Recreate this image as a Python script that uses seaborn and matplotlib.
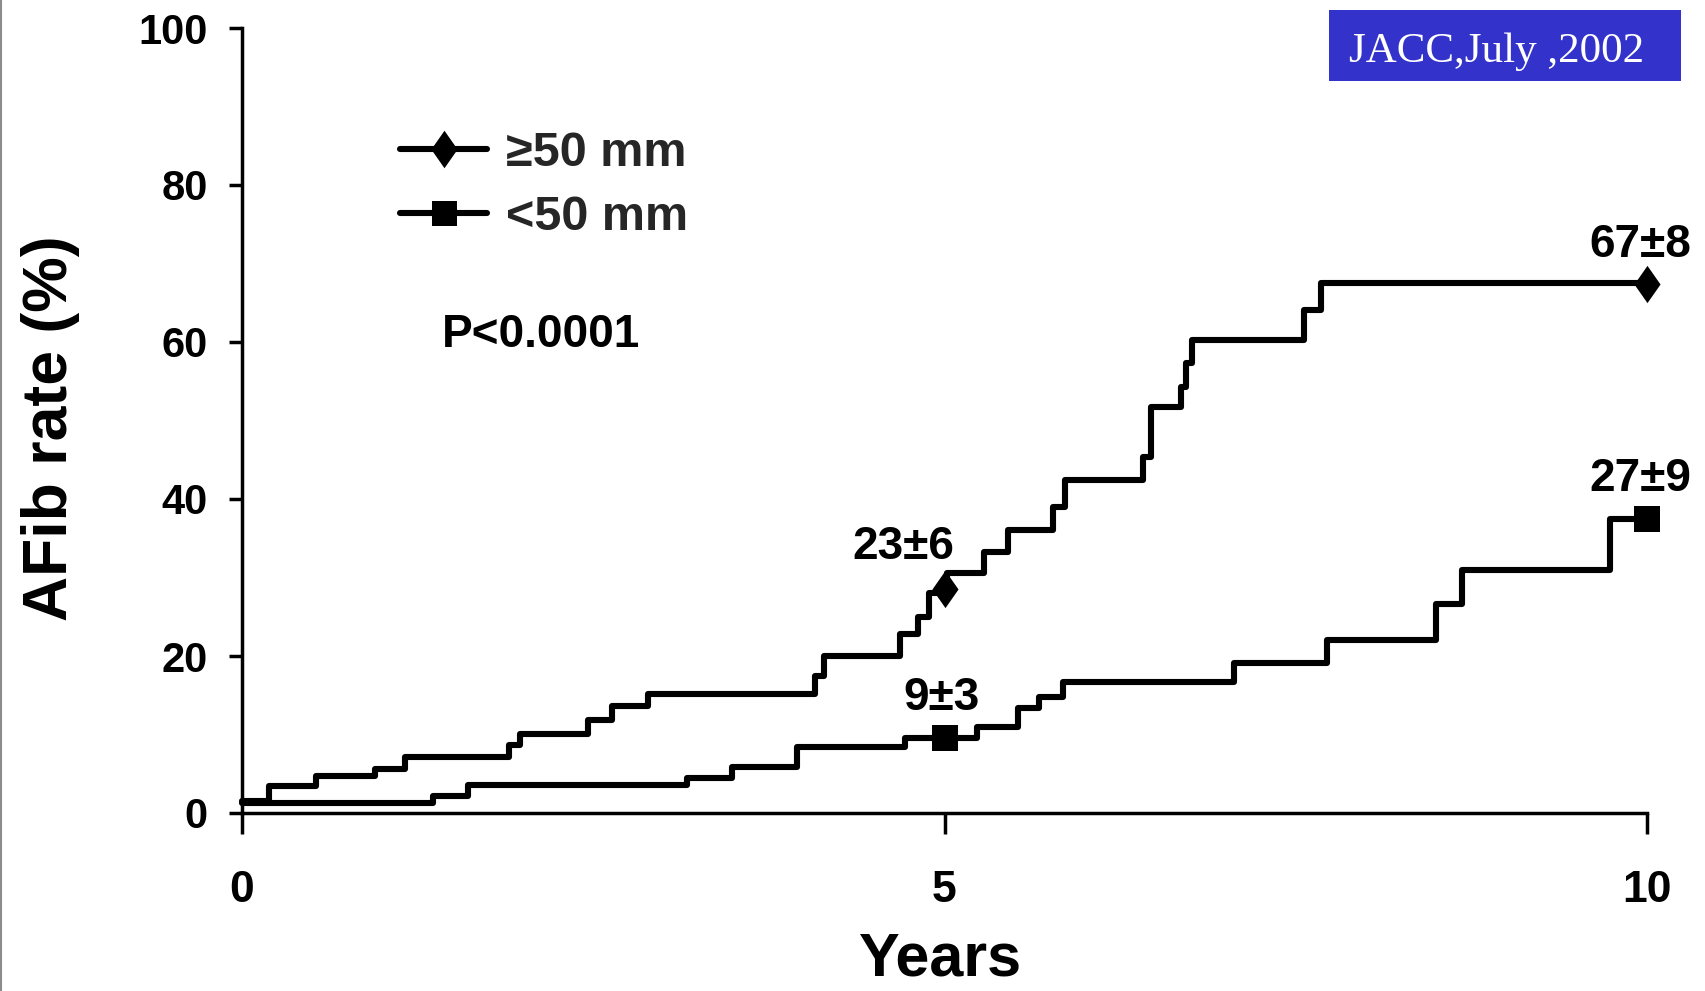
import matplotlib
matplotlib.use("Agg")
import numpy as np
import pandas as pd
import seaborn as sns
import matplotlib.pyplot as plt
from matplotlib.lines import Line2D
from matplotlib.patches import Rectangle

# ---------------- data ----------------
series_names = ["≥50 mm", "<50 mm"]

large_years = [0, 0.19, 0.53, 0.95, 1.16, 1.90, 1.98, 2.46, 2.63, 2.89, 4.08, 4.14,
               4.68, 4.81, 4.89, 5.02, 5.28, 5.45, 5.77, 5.86, 6.41, 6.47, 6.68,
               6.72, 6.76, 7.56, 7.68, 10.0]
large_rate = [1.5, 3.4, 4.7, 5.6, 7.1, 8.6, 10.1, 11.8, 13.6, 15.2, 17.4, 20.0,
              22.8, 25.0, 28.0, 30.6, 33.2, 36.1, 39.0, 42.4, 45.4, 51.7, 54.3,
              57.3, 60.3, 64.1, 67.5, 67.5]

small_years = [0, 1.36, 1.61, 3.17, 3.49, 3.95, 4.72, 5.23, 5.52, 5.67, 5.84,
               7.06, 7.72, 8.50, 8.68, 9.74, 10.0]
small_rate = [1.3, 2.2, 3.6, 4.5, 5.9, 8.4, 9.6, 11.0, 13.4, 14.8, 16.7,
              19.1, 22.0, 26.6, 31.0, 37.4, 37.4]

marker_years = [5, 10]
large_marker_rate = [28.5, 67.4]
small_marker_rate = [9.6, 37.5]
large_labels = ["23±6", "67±8"]
small_labels = ["9±3", "27±9"]
p_text = "P<0.0001"
source_text = "JACC,July ,2002"

x_ticks = [0, 5, 10]
y_ticks = [0, 20, 40, 60, 80, 100]

# ---------------- style ----------------
sns.set_theme(style="ticks")
plt.rcParams['font.family'] = ['Liberation Sans', 'DejaVu Sans']
plt.rcParams['font.weight'] = 'bold'
plt.rcParams['axes.linewidth'] = 2.5

W, H = 1706, 991
fig = plt.figure(figsize=(W / 100, H / 100), dpi=100)
fig.patch.set_facecolor("white")
ax = fig.add_axes([242 / W, 1 - 813 / H, 1405 / W, 785 / H])
ax.set_facecolor("white")

LW = 4.4
diamond = [(0, 1), (0.7, 0), (0, -1), (-0.7, 0), (0, 1)]

df_large = pd.DataFrame({"Years": large_years, "rate": large_rate})
df_small = pd.DataFrame({"Years": small_years, "rate": small_rate})

sns.lineplot(data=df_large, x="Years", y="rate", drawstyle="steps-post",
             color="black", lw=LW, estimator=None, sort=False, ax=ax,
             clip_on=False, zorder=3)
sns.lineplot(data=df_small, x="Years", y="rate", drawstyle="steps-post",
             color="black", lw=LW, estimator=None, sort=False, ax=ax,
             clip_on=False, zorder=3)

sns.scatterplot(x=marker_years, y=large_marker_rate, marker=diamond, s=720,
                color="black", edgecolor="black", linewidth=0, ax=ax,
                clip_on=False, zorder=4)
sns.scatterplot(x=marker_years, y=small_marker_rate, marker="s", s=330,
                color="black", edgecolor="black", linewidth=0, ax=ax,
                clip_on=False, zorder=4)

# value labels
lab_pos_large = [(4.71, 33.85), (9.95, 72.3)]
lab_pos_small = [(4.98, 14.7), (9.95, 42.6)]
for txt, (xx, yy) in zip(large_labels, lab_pos_large):
    ax.text(xx, yy, txt, ha="center", va="center", fontsize=33,
            fontweight="bold", color="black", clip_on=False)
for txt, (xx, yy) in zip(small_labels, lab_pos_small):
    ax.text(xx, yy, txt, ha="center", va="center", fontsize=33,
            fontweight="bold", color="black", clip_on=False)

ax.text(1.42, 60.9, p_text, ha="left", va="center", fontsize=33,
        fontweight="bold", color="black")

# axes
ax.set_xlim(0, 10)
ax.set_ylim(0, 100)
ax.set_xticks(x_ticks)
ax.set_yticks(y_ticks)
ax.set_xticklabels([str(t) for t in x_ticks])
ax.set_yticklabels([str(t) for t in y_ticks])
sns.despine(ax=ax)
for sp in ["left", "bottom"]:
    ax.spines[sp].set_color("black")
    ax.spines[sp].set_linewidth(2.5)
ax.tick_params(axis="y", direction="out", length=9.5, width=2.5, pad=15,
               labelsize=30, colors="black")
ax.tick_params(axis="x", direction="out", length=15, width=2.5, pad=26,
               labelsize=32, colors="black")
for lab in ax.get_xticklabels() + ax.get_yticklabels():
    lab.set_fontweight("bold")

ax.set_xlabel("Years", fontsize=44, fontweight="bold", color="black")
ax.set_ylabel("AFib rate (%)", fontsize=45, fontweight="bold", color="black")
ax.xaxis.set_label_coords((941 - 242) / 1405, (813 - 932) / 785)
ax.yaxis.set_label_coords((80 - 242) / 1405, (813 - 428) / 785)

# legend
handles = [
    Line2D([], [], color="black", lw=LW, marker=diamond, markersize=27,
           markeredgewidth=0),
    Line2D([], [], color="black", lw=LW, marker="s", markersize=18,
           markeredgewidth=0),
]
leg = ax.legend(handles, series_names, loc="upper left",
                bbox_to_anchor=(400 / W, 1 - 131 / H),
                bbox_transform=fig.transFigure, frameon=False,
                fontsize=35, handlelength=1.8, handletextpad=0.38,
                labelspacing=0.40, borderpad=0, borderaxespad=0, numpoints=1)
for t in leg.get_texts():
    t.set_fontweight("bold")

# source box
fig.add_artist(Rectangle((1329 / W, 1 - 81 / H), 352 / W, 71 / H,
                         transform=fig.transFigure, facecolor="#3333CC",
                         edgecolor="none"))
fig.text(1349 / W, 1 - 62 / H, source_text, ha="left", va="baseline",
         fontsize=31, color="white", fontweight="normal",
         family=["Liberation Serif", "DejaVu Serif"])

# thin grey border at left edge
fig.add_artist(Line2D([0.6 / W, 0.6 / W], [0, 1], transform=fig.transFigure,
                      color="#8c8c8c", lw=1.5))

fig.savefig("out.png", dpi=100, facecolor="white")
